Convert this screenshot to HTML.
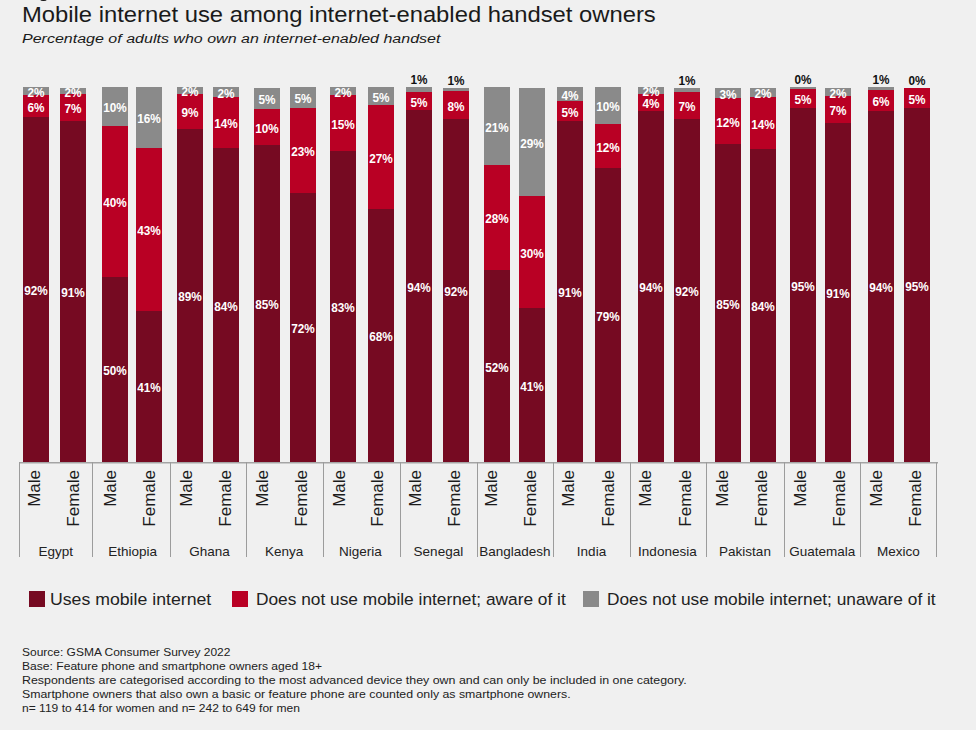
<!DOCTYPE html>
<html><head><meta charset="utf-8">
<style>
html,body{margin:0;padding:0;}
body{width:976px;height:730px;background:#f0f0f0;position:relative;overflow:hidden;font-family:"Liberation Sans",sans-serif;color:#1c1c1c}
.r{position:absolute}
.lw,.lb{position:absolute;width:50px;height:14px;line-height:14px;text-align:center;font-weight:bold;font-size:12.8px;transform:scaleX(0.92);color:#fff;white-space:nowrap}
.lb{color:#111}
.ax{position:absolute;top:550px;width:80px;height:20px;line-height:20px;font-size:17px;text-align:right;color:#1c1c1c;transform-origin:0 0;transform:rotate(-90deg);white-space:nowrap}
.ct{position:absolute;top:544.2px;width:100px;text-align:center;font-size:13.5px;line-height:16px;color:#222;white-space:nowrap}
.t{position:absolute;white-space:nowrap;transform-origin:0 0}
</style></head><body>
<div class="r" style="left:40.4px;top:-3.2px;width:7px;height:4.6px;border-radius:50%;background:#1a1a1a"></div>
<div class="t" style="left:22px;top:0.55px;font-size:21.5px;line-height:28px;color:#1a1a1a;transform:scaleX(1.107)">Mobile internet use among internet-enabled handset owners</div>
<div class="t" style="left:22px;top:28.85px;font-size:13.7px;line-height:20px;font-style:italic;color:#1a1a1a;transform:scaleX(1.170)">Percentage of adults who own an internet-enabled handset</div>
<div class="r" style="left:23px;top:87px;width:26px;height:8px;background:#8a8a8a"></div>
<div class="r" style="left:23px;top:95px;width:26px;height:22px;background:#b90024"></div>
<div class="r" style="left:23px;top:117px;width:26px;height:345px;background:#760a22"></div>
<div class="r" style="left:60px;top:88px;width:26px;height:6px;background:#8a8a8a"></div>
<div class="r" style="left:60px;top:94px;width:26px;height:27px;background:#b90024"></div>
<div class="r" style="left:60px;top:121px;width:26px;height:341px;background:#760a22"></div>
<div class="r" style="left:102px;top:87px;width:26px;height:39px;background:#8a8a8a"></div>
<div class="r" style="left:102px;top:126px;width:26px;height:151px;background:#b90024"></div>
<div class="r" style="left:102px;top:277px;width:26px;height:185px;background:#760a22"></div>
<div class="r" style="left:136px;top:87px;width:26px;height:61px;background:#8a8a8a"></div>
<div class="r" style="left:136px;top:148px;width:26px;height:163px;background:#b90024"></div>
<div class="r" style="left:136px;top:311px;width:26px;height:151px;background:#760a22"></div>
<div class="r" style="left:177px;top:87px;width:26px;height:7px;background:#8a8a8a"></div>
<div class="r" style="left:177px;top:94px;width:26px;height:35px;background:#b90024"></div>
<div class="r" style="left:177px;top:129px;width:26px;height:333px;background:#760a22"></div>
<div class="r" style="left:213px;top:87px;width:26px;height:10px;background:#8a8a8a"></div>
<div class="r" style="left:213px;top:97px;width:26px;height:51px;background:#b90024"></div>
<div class="r" style="left:213px;top:148px;width:26px;height:314px;background:#760a22"></div>
<div class="r" style="left:254px;top:88px;width:26px;height:21px;background:#8a8a8a"></div>
<div class="r" style="left:254px;top:109px;width:26px;height:36px;background:#b90024"></div>
<div class="r" style="left:254px;top:145px;width:26px;height:317px;background:#760a22"></div>
<div class="r" style="left:290px;top:87px;width:26px;height:21px;background:#8a8a8a"></div>
<div class="r" style="left:290px;top:108px;width:26px;height:85px;background:#b90024"></div>
<div class="r" style="left:290px;top:193px;width:26px;height:269px;background:#760a22"></div>
<div class="r" style="left:330px;top:87px;width:26px;height:8px;background:#8a8a8a"></div>
<div class="r" style="left:330px;top:95px;width:26px;height:56px;background:#b90024"></div>
<div class="r" style="left:330px;top:151px;width:26px;height:311px;background:#760a22"></div>
<div class="r" style="left:368px;top:87px;width:26px;height:18px;background:#8a8a8a"></div>
<div class="r" style="left:368px;top:105px;width:26px;height:104px;background:#b90024"></div>
<div class="r" style="left:368px;top:209px;width:26px;height:253px;background:#760a22"></div>
<div class="r" style="left:406px;top:87px;width:26px;height:5px;background:#8a8a8a"></div>
<div class="r" style="left:406px;top:92px;width:26px;height:18px;background:#b90024"></div>
<div class="r" style="left:406px;top:110px;width:26px;height:352px;background:#760a22"></div>
<div class="r" style="left:443px;top:88px;width:26px;height:3px;background:#8a8a8a"></div>
<div class="r" style="left:443px;top:91px;width:26px;height:28px;background:#b90024"></div>
<div class="r" style="left:443px;top:119px;width:26px;height:343px;background:#760a22"></div>
<div class="r" style="left:484px;top:87px;width:26px;height:78px;background:#8a8a8a"></div>
<div class="r" style="left:484px;top:165px;width:26px;height:105px;background:#b90024"></div>
<div class="r" style="left:484px;top:270px;width:26px;height:192px;background:#760a22"></div>
<div class="r" style="left:519px;top:88px;width:26px;height:108px;background:#8a8a8a"></div>
<div class="r" style="left:519px;top:196px;width:26px;height:112px;background:#b90024"></div>
<div class="r" style="left:519px;top:308px;width:26px;height:154px;background:#760a22"></div>
<div class="r" style="left:557px;top:87px;width:26px;height:14px;background:#8a8a8a"></div>
<div class="r" style="left:557px;top:101px;width:26px;height:20px;background:#b90024"></div>
<div class="r" style="left:557px;top:121px;width:26px;height:341px;background:#760a22"></div>
<div class="r" style="left:595px;top:87px;width:26px;height:37px;background:#8a8a8a"></div>
<div class="r" style="left:595px;top:124px;width:26px;height:44px;background:#b90024"></div>
<div class="r" style="left:595px;top:168px;width:26px;height:294px;background:#760a22"></div>
<div class="r" style="left:638px;top:87px;width:26px;height:7px;background:#8a8a8a"></div>
<div class="r" style="left:638px;top:94px;width:26px;height:17px;background:#b90024"></div>
<div class="r" style="left:638px;top:111px;width:26px;height:351px;background:#760a22"></div>
<div class="r" style="left:674px;top:88px;width:26px;height:4px;background:#8a8a8a"></div>
<div class="r" style="left:674px;top:92px;width:26px;height:27px;background:#b90024"></div>
<div class="r" style="left:674px;top:119px;width:26px;height:343px;background:#760a22"></div>
<div class="r" style="left:715px;top:88px;width:26px;height:10px;background:#8a8a8a"></div>
<div class="r" style="left:715px;top:98px;width:26px;height:46px;background:#b90024"></div>
<div class="r" style="left:715px;top:144px;width:26px;height:318px;background:#760a22"></div>
<div class="r" style="left:750px;top:88px;width:26px;height:9px;background:#8a8a8a"></div>
<div class="r" style="left:750px;top:97px;width:26px;height:52px;background:#b90024"></div>
<div class="r" style="left:750px;top:149px;width:26px;height:313px;background:#760a22"></div>
<div class="r" style="left:790px;top:87px;width:26px;height:2px;background:#8a8a8a"></div>
<div class="r" style="left:790px;top:89px;width:26px;height:19px;background:#b90024"></div>
<div class="r" style="left:790px;top:108px;width:26px;height:354px;background:#760a22"></div>
<div class="r" style="left:825px;top:88px;width:26px;height:8px;background:#8a8a8a"></div>
<div class="r" style="left:825px;top:96px;width:26px;height:27px;background:#b90024"></div>
<div class="r" style="left:825px;top:123px;width:26px;height:339px;background:#760a22"></div>
<div class="r" style="left:868px;top:87px;width:26px;height:3px;background:#8a8a8a"></div>
<div class="r" style="left:868px;top:90px;width:26px;height:21px;background:#b90024"></div>
<div class="r" style="left:868px;top:111px;width:26px;height:351px;background:#760a22"></div>
<div class="r" style="left:904px;top:88px;width:26px;height:20px;background:#b90024"></div>
<div class="r" style="left:904px;top:108px;width:26px;height:354px;background:#760a22"></div>
<div class="lw" style="left:11.0px;top:85.80px">2%</div>
<div class="lw" style="left:11.0px;top:100.80px">6%</div>
<div class="lw" style="left:11.0px;top:284.30px">92%</div>
<div class="ax" style="left:24.9px">Male</div>
<div class="lw" style="left:48.0px;top:85.80px">2%</div>
<div class="lw" style="left:48.0px;top:102.30px">7%</div>
<div class="lw" style="left:48.0px;top:286.30px">91%</div>
<div class="ax" style="left:63.8px">Female</div>
<div class="lw" style="left:90.0px;top:101.30px">10%</div>
<div class="lw" style="left:90.0px;top:196.30px">40%</div>
<div class="lw" style="left:90.0px;top:364.30px">50%</div>
<div class="ax" style="left:101.0px">Male</div>
<div class="lw" style="left:124.0px;top:112.30px">16%</div>
<div class="lw" style="left:124.0px;top:224.30px">43%</div>
<div class="lw" style="left:124.0px;top:381.30px">41%</div>
<div class="ax" style="left:139.7px">Female</div>
<div class="lw" style="left:165.0px;top:85.30px">2%</div>
<div class="lw" style="left:165.0px;top:106.30px">9%</div>
<div class="lw" style="left:165.0px;top:290.30px">89%</div>
<div class="ax" style="left:177.3px">Male</div>
<div class="lw" style="left:201.0px;top:86.80px">2%</div>
<div class="lw" style="left:201.0px;top:117.30px">14%</div>
<div class="lw" style="left:201.0px;top:299.80px">84%</div>
<div class="ax" style="left:216.0px">Female</div>
<div class="lw" style="left:242.0px;top:93.30px">5%</div>
<div class="lw" style="left:242.0px;top:121.80px">10%</div>
<div class="lw" style="left:242.0px;top:298.30px">85%</div>
<div class="ax" style="left:253.4px">Male</div>
<div class="lw" style="left:278.0px;top:92.30px">5%</div>
<div class="lw" style="left:278.0px;top:145.30px">23%</div>
<div class="lw" style="left:278.0px;top:322.30px">72%</div>
<div class="ax" style="left:292.2px">Female</div>
<div class="lw" style="left:318.0px;top:85.80px">2%</div>
<div class="lw" style="left:318.0px;top:117.80px">15%</div>
<div class="lw" style="left:318.0px;top:301.30px">83%</div>
<div class="ax" style="left:329.7px">Male</div>
<div class="lw" style="left:356.0px;top:90.80px">5%</div>
<div class="lw" style="left:356.0px;top:151.80px">27%</div>
<div class="lw" style="left:356.0px;top:330.30px">68%</div>
<div class="ax" style="left:368.4px">Female</div>
<div class="lb" style="left:394.0px;top:73.15px">1%</div>
<div class="lw" style="left:394.0px;top:95.80px">5%</div>
<div class="lw" style="left:394.0px;top:280.80px">94%</div>
<div class="ax" style="left:405.6px">Male</div>
<div class="lb" style="left:431.0px;top:74.15px">1%</div>
<div class="lw" style="left:431.0px;top:99.80px">8%</div>
<div class="lw" style="left:431.0px;top:285.30px">92%</div>
<div class="ax" style="left:444.5px">Female</div>
<div class="lw" style="left:472.0px;top:120.80px">21%</div>
<div class="lw" style="left:472.0px;top:212.30px">28%</div>
<div class="lw" style="left:472.0px;top:360.80px">52%</div>
<div class="ax" style="left:482.1px">Male</div>
<div class="lw" style="left:507.0px;top:136.80px">29%</div>
<div class="lw" style="left:507.0px;top:246.80px">30%</div>
<div class="lw" style="left:507.0px;top:379.80px">41%</div>
<div class="ax" style="left:521.0px">Female</div>
<div class="lw" style="left:545.0px;top:88.80px">4%</div>
<div class="lw" style="left:545.0px;top:105.80px">5%</div>
<div class="lw" style="left:545.0px;top:286.30px">91%</div>
<div class="ax" style="left:559.3px">Male</div>
<div class="lw" style="left:583.0px;top:100.30px">10%</div>
<div class="lw" style="left:583.0px;top:140.80px">12%</div>
<div class="lw" style="left:583.0px;top:309.80px">79%</div>
<div class="ax" style="left:598.5px">Female</div>
<div class="lw" style="left:626.0px;top:85.30px">2%</div>
<div class="lw" style="left:626.0px;top:97.30px">4%</div>
<div class="lw" style="left:626.0px;top:281.30px">94%</div>
<div class="ax" style="left:636.4px">Male</div>
<div class="lb" style="left:662.0px;top:74.15px">1%</div>
<div class="lw" style="left:662.0px;top:100.30px">7%</div>
<div class="lw" style="left:662.0px;top:285.30px">92%</div>
<div class="ax" style="left:675.6px">Female</div>
<div class="lw" style="left:703.0px;top:87.80px">3%</div>
<div class="lw" style="left:703.0px;top:115.80px">12%</div>
<div class="lw" style="left:703.0px;top:297.80px">85%</div>
<div class="ax" style="left:712.6px">Male</div>
<div class="lw" style="left:738.0px;top:87.30px">2%</div>
<div class="lw" style="left:738.0px;top:117.80px">14%</div>
<div class="lw" style="left:738.0px;top:300.30px">84%</div>
<div class="ax" style="left:751.6px">Female</div>
<div class="lb" style="left:778.0px;top:73.15px">0%</div>
<div class="lw" style="left:778.0px;top:93.30px">5%</div>
<div class="lw" style="left:778.0px;top:279.80px">95%</div>
<div class="ax" style="left:791.0px">Male</div>
<div class="lw" style="left:813.0px;top:86.80px">2%</div>
<div class="lw" style="left:813.0px;top:104.30px">7%</div>
<div class="lw" style="left:813.0px;top:287.30px">91%</div>
<div class="ax" style="left:829.7px">Female</div>
<div class="lb" style="left:856.0px;top:73.15px">1%</div>
<div class="lw" style="left:856.0px;top:95.30px">6%</div>
<div class="lw" style="left:856.0px;top:281.30px">94%</div>
<div class="ax" style="left:866.8px">Male</div>
<div class="lb" style="left:892.0px;top:74.15px">0%</div>
<div class="lw" style="left:892.0px;top:92.80px">5%</div>
<div class="lw" style="left:892.0px;top:279.80px">95%</div>
<div class="ax" style="left:905.8px">Female</div>
<div class="r" style="left:19px;top:462px;width:919px;height:1px;background:#a4a4a4"></div>
<div class="r" style="left:19px;top:463px;width:919px;height:1px;background:#cbcbcb"></div>
<div class="r" style="left:19px;top:462px;width:1px;height:95px;background:#9c9c9c"></div>
<div class="r" style="left:92px;top:462px;width:1px;height:95px;background:#9c9c9c"></div>
<div class="r" style="left:170px;top:462px;width:1px;height:95px;background:#9c9c9c"></div>
<div class="r" style="left:246px;top:462px;width:1px;height:95px;background:#9c9c9c"></div>
<div class="r" style="left:323px;top:462px;width:1px;height:95px;background:#9c9c9c"></div>
<div class="r" style="left:400px;top:462px;width:1px;height:95px;background:#9c9c9c"></div>
<div class="r" style="left:477px;top:462px;width:1px;height:95px;background:#9c9c9c"></div>
<div class="r" style="left:553px;top:462px;width:1px;height:95px;background:#9c9c9c"></div>
<div class="r" style="left:630px;top:462px;width:1px;height:95px;background:#9c9c9c"></div>
<div class="r" style="left:706px;top:462px;width:1px;height:95px;background:#9c9c9c"></div>
<div class="r" style="left:784px;top:462px;width:1px;height:95px;background:#9c9c9c"></div>
<div class="r" style="left:860px;top:462px;width:1px;height:95px;background:#9c9c9c"></div>
<div class="r" style="left:936px;top:462px;width:1px;height:95px;background:#9c9c9c"></div>
<div class="ct" style="left:5.8px">Egypt</div>
<div class="ct" style="left:82.6px">Ethiopia</div>
<div class="ct" style="left:159.6px">Ghana</div>
<div class="ct" style="left:234.1px">Kenya</div>
<div class="ct" style="left:310.3px">Nigeria</div>
<div class="ct" style="left:388.4px">Senegal</div>
<div class="ct" style="left:464.9px">Bangladesh</div>
<div class="ct" style="left:541.5px">India</div>
<div class="ct" style="left:617.4px">Indonesia</div>
<div class="ct" style="left:695.0px">Pakistan</div>
<div class="ct" style="left:772.3px">Guatemala</div>
<div class="ct" style="left:848.5px">Mexico</div>
<div class="r" style="left:29px;top:591px;width:16px;height:16px;background:#760a22"></div>
<div class="t" style="left:50px;top:588px;font-size:17.4px;line-height:22px;color:#222;transform:scaleX(1.017)">Uses mobile internet</div>
<div class="r" style="left:232px;top:591px;width:16px;height:16px;background:#b90024"></div>
<div class="t" style="left:255.5px;top:588px;font-size:17.4px;line-height:22px;color:#222;transform:scaleX(0.995)">Does not use mobile internet; aware of it</div>
<div class="r" style="left:583px;top:591px;width:16px;height:16px;background:#8a8a8a"></div>
<div class="t" style="left:606.5px;top:588px;font-size:17.4px;line-height:22px;color:#222;transform:scaleX(0.994)">Does not use mobile internet; unaware of it</div>
<div class="t" style="left:22px;top:645px;font-size:11px;line-height:14px;color:#222;transform:scaleX(1.089)">Source: GSMA Consumer Survey 2022</div>
<div class="t" style="left:22px;top:659px;font-size:11px;line-height:14px;color:#222;transform:scaleX(1.099)">Base: Feature phone and smartphone owners aged 18+</div>
<div class="t" style="left:22px;top:673px;font-size:11px;line-height:14px;color:#222;transform:scaleX(1.127)">Respondents are categorised according to the most advanced device they own and can only be included in one category.</div>
<div class="t" style="left:22px;top:687px;font-size:11px;line-height:14px;color:#222;transform:scaleX(1.12)">Smartphone owners that also own a basic or feature phone are counted only as smartphone owners.</div>
<div class="t" style="left:22px;top:701px;font-size:11px;line-height:14px;color:#222;transform:scaleX(1.096)">n= 119 to 414 for women and n= 242 to 649 for men</div>
</body></html>
